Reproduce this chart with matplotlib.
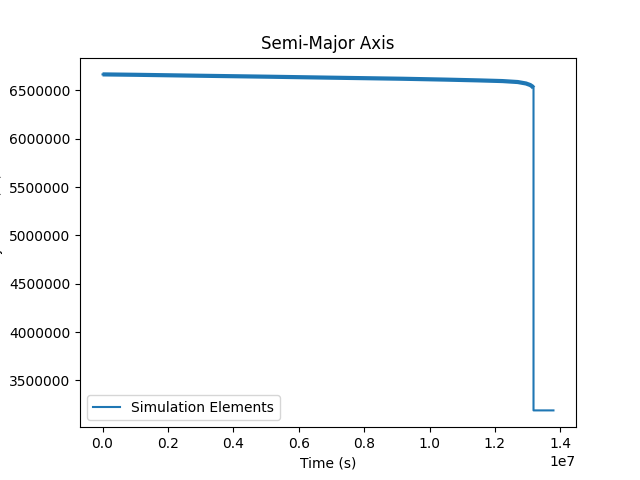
import matplotlib
matplotlib.use("Agg")
import matplotlib.pyplot as plt

# values
time_s = [0.0, 0.1e7, 0.3e7, 0.511e7, 0.7e7, 0.917e7, 1.05e7, 1.15e7,
          1.223e7, 1.27e7, 1.295e7, 1.308e7, 1.315e7, 1.318e7, 1.318e7, 1.379e7]
sma_m = [6.666e6, 6.662e6, 6.652e6, 6.642e6, 6.632e6, 6.621e6, 6.612e6, 6.604e6,
         6.597e6, 6.587e6, 6.572e6, 6.556e6, 6.540e6, 6.525e6, 3.189e6, 3.189e6]

fig, ax = plt.subplots(figsize=(6.4, 4.8), dpi=100)
# oscillation band of the orbit shows up as a thicker trace
ax.plot(time_s[:14], sma_m[:14], color="C0", lw=3, solid_capstyle="butt")
ax.plot(time_s, sma_m, color="C0", label="Simulation Elements")
ax.ticklabel_format(axis="y", style="plain", useOffset=False)
ax.set_title("Semi-Major Axis")
ax.set_xlabel("Time (s)")
ax.set_ylabel("Semi-Major Axis (m)")
ax.legend(loc="lower left")
fig.savefig("out.png")
